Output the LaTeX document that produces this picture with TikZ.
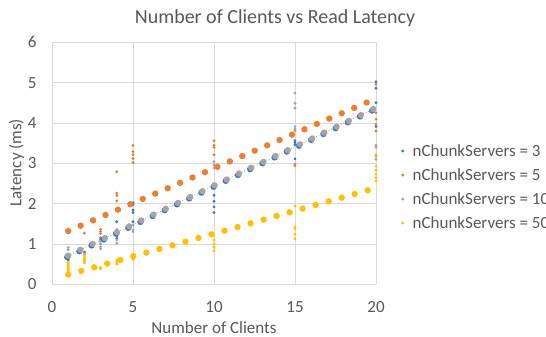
\documentclass[tikz,border=0pt]{standalone}
\usepackage{fontspec}
\setmainfont{Carlito}
\definecolor{cblue}{HTML}{4472C4}
\definecolor{corange}{HTML}{ED7D31}
\definecolor{cgrey}{HTML}{A5A5A5}
\definecolor{cyellow}{HTML}{FFC000}
\definecolor{gridc}{HTML}{D9D9D9}
\definecolor{txt}{HTML}{595959}
\tikzset{
  bigdot/.style={radius=3.2pt},
  smalldot/.style={radius=1.6pt},
  gridline/.style={draw=gridc, line width=0.75pt},
  lbl/.style={text=txt, font=\fontsize{17}{20}\selectfont, inner sep=0pt},
}
\begin{document}
\begin{tikzpicture}[x=1pt,y=1pt]
\useasboundingbox (0,0) rectangle (546,337);
\fill[white] (0,0) rectangle (546,337);

% title and axis titles
\node[text=txt, font=\fontsize{20}{24}\selectfont, inner sep=0pt] (title) at (275,318.5) {Number of Clients vs Read Latency};
\node[lbl] (xtitle) at (214,9.5) {Number of Clients};
\node[lbl, rotate=90] (ytitle) at (16.5,174.5) {Latency (ms)};

% legend
\foreach \c/\t/\yy [count=\i] in {cblue/3/186, corange/5/162, cgrey/10/138, cyellow/50/114} {
  \fill[\c] (402.7,\yy) circle[smalldot];
  \node[lbl, anchor=west] (leg\i) at (412.5,\yy) {nChunkServers = \t};
}

\begin{scope}[x=16.2pt, y=40.33pt, shift={(52pt,52.7pt)}]
  % grid
  \foreach \k in {0,...,6} \draw[gridline] (0,\k) -- (20,\k);
  \foreach \k in {0,5,...,20} \draw[gridline] (\k,0) -- (\k,6);
  % tick labels
  \foreach \k in {0,...,6} \node[lbl, anchor=east] (yt\k) at (-0.95,\k) {\k};
  \foreach \k in {0,5,...,20} \node[lbl] (xt\k) at (\k,-0.56) {\k};

  % nChunkServers = 3
  \foreach \k in {0,...,25} {
    \pgfmathsetmacro\xx{1+0.753*\k}
    \pgfmathsetmacro\yy{0.71+0.193*(\xx-1)}
    \fill[cblue] (\xx-0.06,\yy-0.035) circle[bigdot];
  }
  \foreach \xx/\yy in {1/0.64,1/0.60,2/0.80,2/0.74,3/1.10,3/1.15,
    4/1.55,4/1.26,4/1.20,4/1.14,5/2.02,5/1.98,5/1.84,5/1.78,5/1.55,
    10/2.21,10/2.06,10/1.92,10/1.78,15/3.56,15/3.51,15/3.46,15/3.11,
    20/5.02,20/4.86,20/4.50,20/3.91}
    \fill[cblue] (\xx,\yy) circle[smalldot];

  % nChunkServers = 5
  \foreach \k in {0,...,24} {
    \pgfmathsetmacro\xx{1+0.7675*\k}
    \pgfmathsetmacro\yy{1.32+0.173*(\xx-1)}
    \fill[corange] (\xx,\yy) circle[bigdot];
  }
  \foreach \xx/\yy in {2/1.27,3/1.36,3/1.31,3/1.26,
    4/2.79,4/2.26,4/2.20,4/2.07,5/3.44,5/3.29,5/3.21,5/3.12,5/3.02,
    10/3.56,10/3.45,10/3.40,10/3.21,15/3.81,15/2.98,15/2.94,
    20/4.96,20/4.25,20/4.09,20/3.96,20/3.80}
    \fill[corange] (\xx,\yy) circle[smalldot];

  % trend line of nChunkServers = 10
  \draw[cgrey, line width=0.75pt, dotted] (0.85,0.68) -- (20,{0.71+0.193*19});

  % nChunkServers = 10
  \foreach \k in {0,...,25} {
    \pgfmathsetmacro\xx{1+0.753*\k}
    \pgfmathsetmacro\yy{0.71+0.193*(\xx-1)}
    \fill[cgrey] (\xx,\yy) circle[bigdot];
  }
  \foreach \xx/\yy in {1/0.91,1/0.86,1/0.55,2/0.60,3/1.06,3/1.00,3/0.93,3/0.88,
    4/1.36,4/1.30,4/1.10,4/1.02,5/1.47,5/1.35,5/1.30,
    10/3.04,10/2.96,10/2.88,15/4.74,15/4.49,15/4.37,15/3.91,15/3.85,
    20/3.45,20/3.40,20/3.18,20/3.10}
    \fill[cgrey] (\xx,\yy) circle[smalldot];

  % nChunkServers = 50
  \foreach \k in {0,...,23} {
    \pgfmathsetmacro\xx{1+0.804*\k}
    \pgfmathsetmacro\yy{0.24+0.113*(\xx-1)}
    \fill[cyellow] (\xx,\yy) circle[bigdot];
  }
  \foreach \xx/\yy in {1/0.55,1/0.50,1/0.46,1/0.42,1/0.38,1/0.34,1/0.30,
    2/0.73,2/0.68,2/0.63,2/0.58,2/0.53,3/0.42,3/0.38,4/0.60,4/0.55,4/0.50,
    5/0.73,5/0.66,5/0.62,10/1.10,10/1.00,10/0.92,10/0.83,
    15/1.94,15/1.43,15/1.37,15/1.24,15/1.13,
    20/3.22,20/2.93,20/2.83,20/2.73,20/2.64,20/2.56}
    \fill[cyellow] (\xx,\yy) circle[smalldot];
\end{scope}
\end{tikzpicture}
\end{document}
